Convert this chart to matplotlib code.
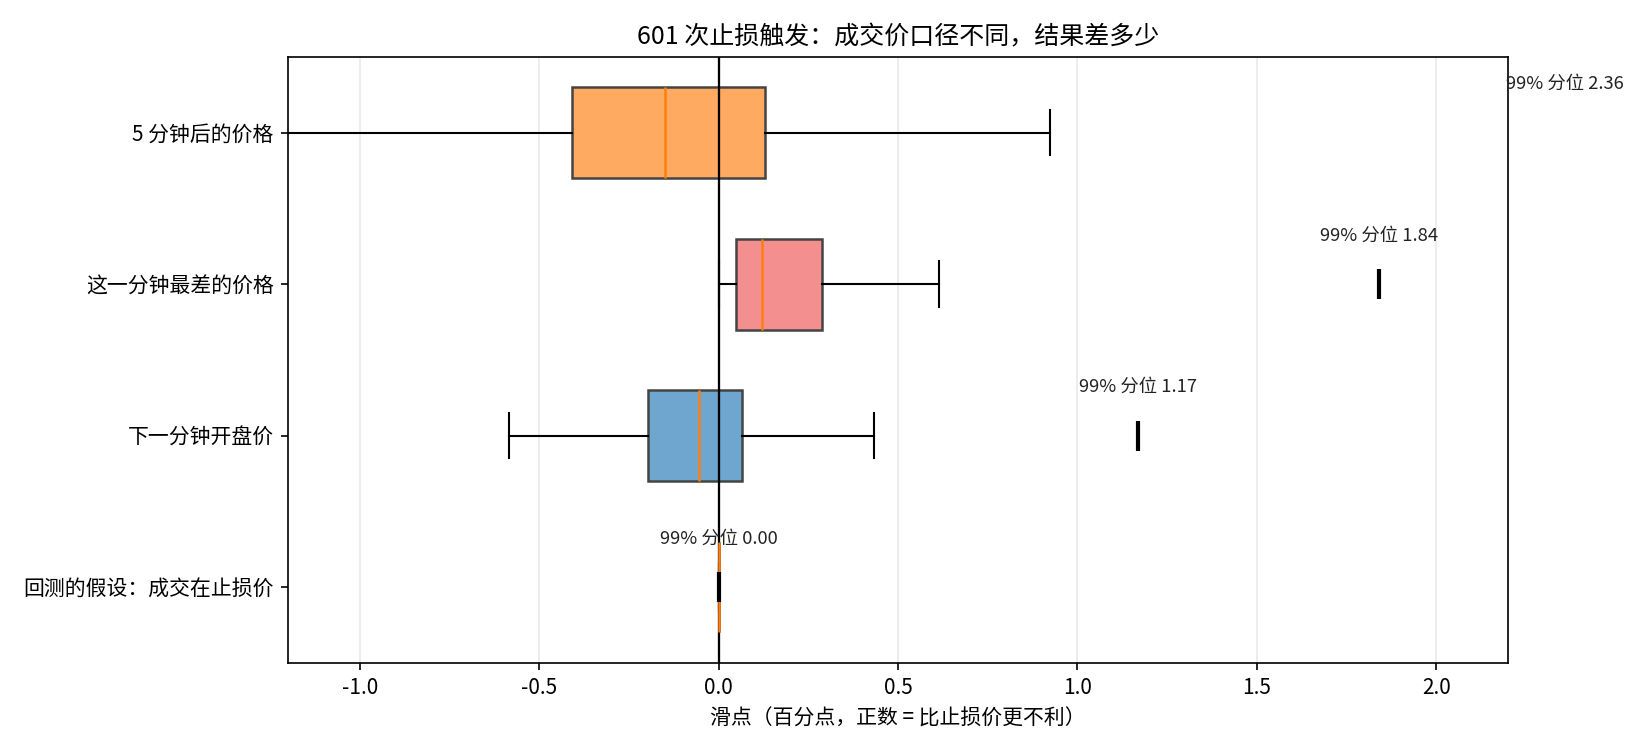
import numpy as np
import matplotlib
matplotlib.use("Agg")
import matplotlib.pyplot as plt

plt.rcParams["font.family"] = ["Noto Sans CJK SC", "DejaVu Sans"]
plt.rcParams["axes.unicode_minus"] = False

# 从下到上的四种成交价口径
labels = ["回测的假设：成交在止损价", "下一分钟开盘价", "这一分钟最差的价格", "5 分钟后的价格"]
whislo = [0.0, -0.586, 0.0, -1.45]
q1 = [0.0, -0.196, 0.047, -0.41]
med = [0.0, -0.056, 0.12, -0.149]
q3 = [0.0, 0.064, 0.287, 0.129]
whishi = [0.0, 0.434, 0.615, 0.923]
p99 = [0.00, 1.17, 1.84, 2.36]
colors = ["#ffffff", "#6fa6cf", "#f38f8f", "#ffaa60"]

fig = plt.figure(figsize=(11, 5), dpi=150)
ax = fig.add_axes([0.1747, 0.1164, 0.7392, 0.8076])

stats = [
    dict(label=labels[i], whislo=whislo[i], q1=q1[i], med=med[i], q3=q3[i],
         whishi=whishi[i], fliers=[])
    for i in range(len(labels))
]
pos = np.arange(1, len(labels) + 1)
bp = ax.bxp(stats, positions=pos, vert=False, widths=0.6, patch_artist=True,
            showfliers=False,
            boxprops=dict(edgecolor="#444444", linewidth=1.2),
            whiskerprops=dict(color="black", linewidth=1.0),
            capprops=dict(color="black", linewidth=1.0),
            medianprops=dict(color="#ff7f0e", linewidth=1.2))
for patch, c in zip(bp["boxes"], colors):
    patch.set_facecolor(c)

ax.axvline(0, color="black", linewidth=1.1)

# 99% 分位
for y, v in zip(pos, p99):
    ax.plot([v], [y], marker="|", markersize=14, markeredgewidth=2,
            color="black", zorder=3)
    ax.text(v, y + 0.32, f"99% 分位 {v:.2f}", ha="center", va="center",
            fontsize=8.8, color="#222222", clip_on=False)

ax.set_xlim(-1.2, 2.2)
ax.set_ylim(0.5, 4.5)
ax.set_yticks(pos)
ax.set_yticklabels(labels, fontsize=10)
ax.tick_params(axis="x", labelsize=10)
ax.set_xticks([-1.0, -0.5, 0.0, 0.5, 1.0, 1.5, 2.0])
ax.set_xticklabels(["-1.0", "-0.5", "0.0", "0.5", "1.0", "1.5", "2.0"])
ax.grid(axis="x", color="#dddddd", alpha=0.6, linewidth=0.8)
ax.set_axisbelow(True)
ax.set_xlabel("滑点（百分点，正数 = 比止损价更不利）", fontsize=10)
ax.set_title("601 次止损触发：成交价口径不同，结果差多少", fontsize=12)

fig.savefig("out.png", dpi=150)
